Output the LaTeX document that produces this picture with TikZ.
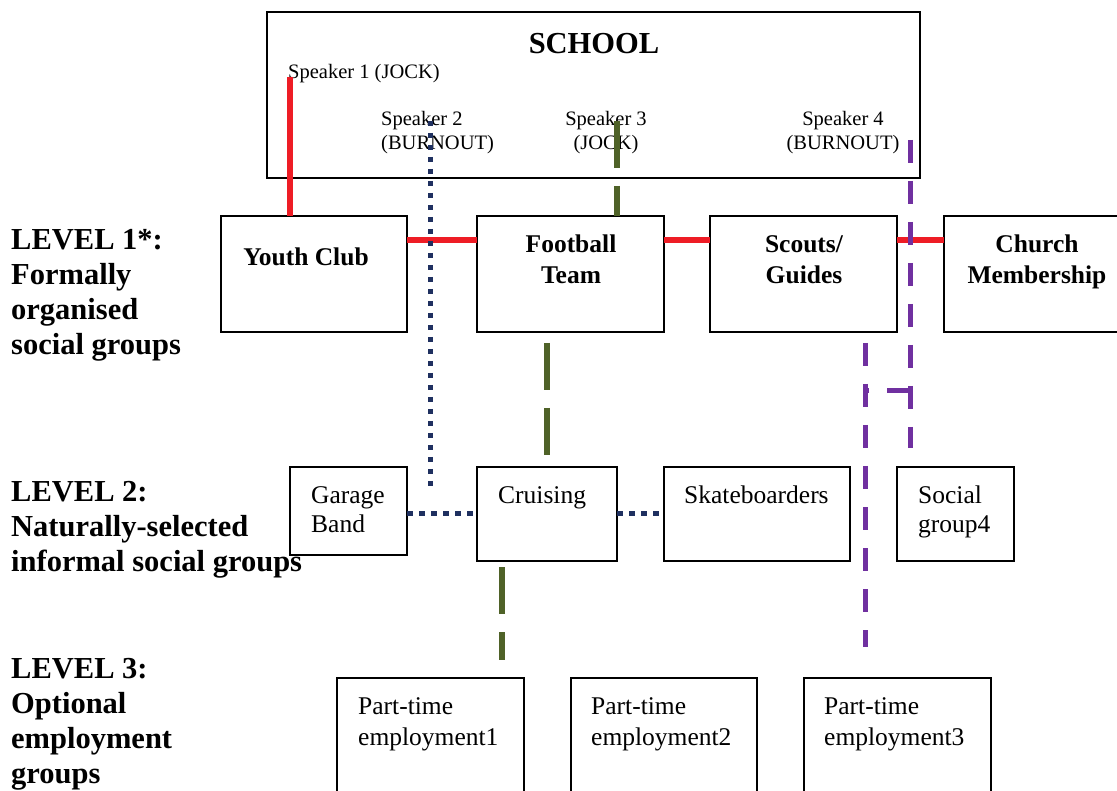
\documentclass[tikz,border=0pt]{standalone}
\usepackage{fontspec}
\setmainfont{Liberation Serif}
\definecolor{lred}{HTML}{EE1C25}
\definecolor{lnavy}{HTML}{1F3060}
\definecolor{lgreen}{HTML}{4F6228}
\definecolor{lpurple}{HTML}{7030A0}
\tikzset{
  box/.style={draw=black, line width=1.8pt, fill=none, inner sep=0pt, outer sep=0pt, anchor=north west},
  lvl/.style={font=\bfseries\fontsize{30.5}{35}\selectfont, align=left, anchor=north west, inner sep=0pt},
  boldtxt/.style={font=\bfseries\fontsize{25.5}{31}\selectfont, align=center, anchor=north, inner sep=0pt},
  regtxt/.style={font=\fontsize{25.5}{29}\selectfont, align=left, anchor=north west, inner sep=0pt},
  emptxt/.style={font=\fontsize{25.5}{31}\selectfont, align=left, anchor=north west, inner sep=0pt},
  spk/.style={font=\fontsize{20.5}{24}\selectfont, inner sep=0pt},
  redline/.style={draw=lred, line width=5.5pt},
  navyline/.style={draw=lnavy, line width=5pt, dash pattern=on 5.5pt off 6.5pt},
  greenline/.style={draw=lgreen, line width=5.5pt, dash pattern=on 47pt off 18pt},
  purpleline/.style={draw=lpurple, line width=5pt, dash pattern=on 23pt off 18pt}
}
\begin{document}
\begin{tikzpicture}[x=1pt,y=-1pt]
\useasboundingbox (0,0) rectangle (1117,791);
\fill[white] (0,0) rectangle (1117,791);

% boxes
\node[box, line width=2pt, minimum width=653, minimum height=166] (school) at (267,12) {};
\node[box, minimum width=186, minimum height=116] (yc) at (221,216) {};
\node[box, minimum width=187, minimum height=116] (fb) at (477,216) {};
\node[box, minimum width=187, minimum height=116] (sg) at (710,216) {};
\node[box, minimum width=180, minimum height=116] (ch) at (944,216) {};
\node[box, minimum width=117, minimum height=88] (gb) at (290,467) {};
\node[box, minimum width=140, minimum height=94] (cr) at (477,467) {};
\node[box, minimum width=186, minimum height=94] (sk) at (664,467) {};
\node[box, minimum width=117, minimum height=94] (so) at (897,467) {};
\node[box, minimum width=187, minimum height=120] (pt1) at (337,678) {};
\node[box, minimum width=186, minimum height=120] (pt2) at (571,678) {};
\node[box, minimum width=187, minimum height=120] (pt3) at (804,678) {};

% texts
\node[font=\bfseries\fontsize{30.5}{35}\selectfont, anchor=north, inner sep=0pt] (schooltxt) at (594,33) {SCHOOL};
\node[spk, anchor=north west] (sp1) at (288,64) {Speaker 1 (JOCK)};
\node[spk, anchor=north west, align=left] (sp2) at (381,111) {Speaker 2\\(BURNOUT)};
\node[spk, anchor=north, align=center] (sp3) at (606,111) {Speaker 3\\ (JOCK)};
\node[spk, anchor=north, align=center] (sp4) at (843,111) {Speaker 4\\(BURNOUT)};

\node[lvl] (l1) at (11,229) {LEVEL 1*:\\Formally\\organised\\social groups};
\node[lvl] (l2) at (11,481) {LEVEL 2:\\Naturally-selected\\informal social groups};
\node[lvl] (l3) at (11,658) {LEVEL 3:\\Optional\\employment\\groups};

\node[boldtxt] (yctxt) at (306,248) {Youth Club};
\node[boldtxt] (fbtxt) at (571,235) {Football\\Team};
\node[boldtxt] (sgtxt) at (804,235) {Scouts/\\Guides};
\node[boldtxt] (chtxt) at (1037,235) {Church\\Membership};

\node[regtxt] (gbtxt) at (311,486) {Garage\\Band};
\node[regtxt] (crtxt) at (498,486) {Cruising};
\node[regtxt] (sktxt) at (684,486) {Skateboarders};
\node[regtxt] (sotxt) at (918,486) {Social\\group4};

\node[emptxt] (pt1txt) at (358,697) {Part-time\\employment1};
\node[emptxt] (pt2txt) at (591,697) {Part-time\\employment2};
\node[emptxt] (pt3txt) at (824,697) {Part-time\\employment3};

% coordinates
\coordinate (s1) at (290,77);
\coordinate (s2) at (430,121);
\coordinate (s2end) at (430,489);
\coordinate (s3) at (617,121);
\coordinate (s4) at (910,140);
\coordinate (s4end) at (910,448);
\coordinate (ry) at (0,240);
\coordinate (ny) at (0,513);
\coordinate (g1a) at (547,343);
\coordinate (g1b) at (547,455);
\coordinate (g2a) at (502,567);
\coordinate (g2b) at (502,660);
\coordinate (p2a) at (865,343);
\coordinate (p2b) at (865,647);
\coordinate (pj1) at (910,391);
\coordinate (pj2) at (865,391);

% red (speaker 1)
\draw[redline] (s1) -- (s1 |- yc.north);
\draw[redline] (yc.east |- ry) -- (fb.west |- ry);
\draw[redline] (fb.east |- ry) -- (sg.west |- ry);
\draw[redline] (sg.east |- ry) -- (ch.west |- ry);

% navy (speaker 2)
\draw[navyline] (s2) -- (s2end);
\draw[navyline] (gb.east |- ny) -- (cr.west |- ny);
\draw[navyline] (cr.east |- ny) -- (sk.west |- ny);

% green (speaker 3)
\draw[greenline] (s3) -- (s3 |- fb.north);
\draw[greenline] (g1a) -- (g1b);
\draw[greenline] (g2a) -- (g2b);

% purple (speaker 4)
\draw[purpleline] (s4) -- (s4end);
\draw[purpleline] (p2a) -- (p2b);
\draw[purpleline] (pj1) -- (pj2);
\end{tikzpicture}
\end{document}
